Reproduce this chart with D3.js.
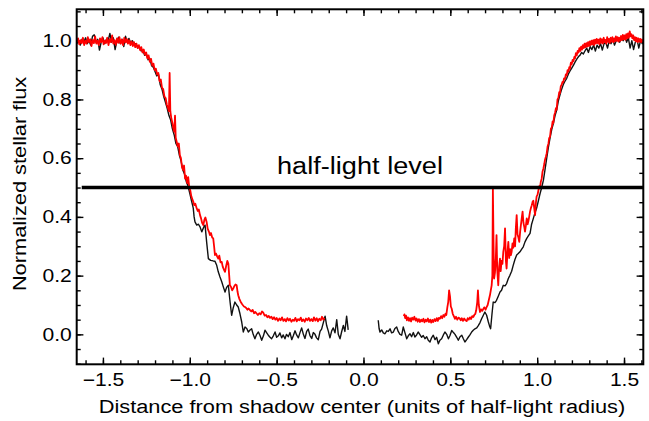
<!DOCTYPE html>
<html>
<head>
<meta charset="utf-8">
<script src="https://cdn.jsdelivr.net/npm/d3@7"></script>
<style>
  body { margin: 0; background: #fff; }
  text { font-family: "Liberation Sans", Arial, Helvetica, sans-serif; fill: #000; }
</style>
</head>
<body>
<svg id="chart" width="649" height="421"></svg>
<script>
// Light curves: [distance from shadow center, normalized stellar flux]
const blackLeft = [
  [-1.650,0.990],[-1.640,1.000],[-1.630,0.985],[-1.620,1.005],[-1.610,0.995],[-1.600,1.010],[-1.590,0.990],[-1.580,1.000],
  [-1.570,0.985],[-1.560,1.015],[-1.550,1.020],[-1.540,0.995],[-1.530,1.005],[-1.520,0.968],[-1.510,0.995],[-1.500,1.010],
  [-1.490,0.990],[-1.480,1.005],[-1.470,1.000],[-1.460,1.025],[-1.450,0.995],[-1.440,1.010],[-1.430,0.970],[-1.420,0.998],
  [-1.410,1.012],[-1.400,0.990],[-1.390,1.005],[-1.380,0.980],[-1.370,1.015],[-1.360,0.995],[-1.350,1.008],[-1.340,0.992],
  [-1.330,1.000],[-1.320,0.985],[-1.310,0.990],[-1.300,0.975],[-1.290,0.980],[-1.280,0.965],[-1.270,0.968],[-1.260,0.950],
  [-1.250,0.955],[-1.240,0.935],[-1.230,0.940],[-1.220,0.915],[-1.210,0.910],[-1.200,0.895],[-1.190,0.880],[-1.180,0.885],
  [-1.170,0.850],[-1.160,0.835],[-1.150,0.810],[-1.140,0.790],[-1.130,0.770],[-1.120,0.745],[-1.110,0.730],[-1.100,0.700],
  [-1.090,0.680],[-1.080,0.650],[-1.070,0.640],[-1.060,0.610],[-1.050,0.590],[-1.040,0.560],[-1.030,0.545],[-1.020,0.520],
  [-1.010,0.505],[-1.000,0.480],[-0.990,0.455],[-0.980,0.430],[-0.975,0.400],[-0.970,0.383],[-0.960,0.372],[-0.950,0.375],
  [-0.941,0.366],[-0.931,0.349],[-0.920,0.365],[-0.912,0.372],[-0.903,0.315],[-0.893,0.258],[-0.880,0.252],[-0.865,0.250],
  [-0.855,0.249],[-0.845,0.235],[-0.836,0.213],[-0.826,0.195],[-0.816,0.179],[-0.806,0.160],[-0.797,0.144],[-0.788,0.160],
  [-0.778,0.167],[-0.768,0.110],[-0.759,0.065],[-0.750,0.090],[-0.740,0.110],[-0.730,0.100],[-0.721,0.093],[-0.711,0.070],
  [-0.701,0.042],[-0.692,0.008],[-0.682,0.025],[-0.672,0.020],[-0.663,0.008],[-0.653,0.015],[-0.644,0.019],[-0.635,0.000],
  [-0.625,-0.015],[-0.615,0.000],[-0.605,0.008],[-0.595,-0.005],[-0.586,-0.020],[-0.576,-0.005],[-0.567,0.014],[-0.557,0.005],
  [-0.548,-0.003],[-0.538,-0.010],[-0.529,-0.015],[-0.519,-0.005],[-0.509,0.008],[-0.500,-0.010],[-0.490,-0.005],[-0.481,0.005],
  [-0.471,-0.012],[-0.462,-0.002],[-0.452,-0.015],[-0.443,0.000],[-0.433,-0.008],[-0.423,0.006],[-0.413,-0.018],[-0.404,-0.005],
  [-0.394,0.012],[-0.385,-0.002],[-0.375,-0.012],[-0.366,0.005],[-0.356,0.022],[-0.346,0.000],[-0.337,-0.014],[-0.327,0.010],
  [-0.318,0.018],[-0.308,-0.004],[-0.298,-0.014],[-0.289,0.006],[-0.279,0.000],[-0.270,-0.012],[-0.260,-0.018],[-0.250,0.010],
  [-0.241,0.018],[-0.231,0.040],[-0.221,0.062],[-0.212,0.030],[-0.202,0.010],[-0.193,-0.012],[-0.183,0.012],[-0.174,0.022],
  [-0.164,0.005],[-0.154,0.050],[-0.145,0.000],[-0.135,-0.015],[-0.126,0.008],[-0.116,0.030],[-0.107,0.010],[-0.097,0.062],
  [-0.088,0.015]
];

const blackRight = [
  [0.085,0.048],[0.090,0.020],[0.095,0.008],[0.105,0.015],[0.114,0.005],[0.124,0.002],[0.134,0.012],[0.143,0.010],
  [0.153,0.019],[0.162,0.005],[0.172,0.008],[0.181,0.020],[0.191,0.025],[0.200,0.010],[0.210,0.000],[0.220,-0.003],
  [0.229,0.025],[0.239,0.005],[0.249,-0.015],[0.258,-0.005],[0.268,0.002],[0.277,-0.008],[0.287,0.006],[0.296,-0.009],
  [0.306,-0.002],[0.315,0.008],[0.325,-0.001],[0.335,-0.010],[0.344,-0.004],[0.354,-0.015],[0.364,-0.008],[0.373,-0.020],
  [0.383,-0.026],[0.392,-0.012],[0.402,-0.003],[0.412,-0.018],[0.421,-0.010],[0.431,-0.032],[0.440,-0.020],[0.450,-0.015],
  [0.460,-0.002],[0.469,0.008],[0.479,0.000],[0.489,-0.015],[0.498,-0.004],[0.508,0.013],[0.518,0.006],[0.527,0.000],
  [0.537,-0.010],[0.546,-0.020],[0.556,-0.008],[0.566,-0.003],[0.575,-0.015],[0.584,-0.026],[0.594,-0.018],[0.604,-0.009],
  [0.613,-0.002],[0.623,0.008],[0.632,0.014],[0.642,0.019],[0.652,0.022],[0.661,0.030],[0.671,0.040],[0.680,0.053],
  [0.690,0.065],[0.699,0.076],[0.709,0.065],[0.719,0.042],[0.726,0.028],[0.732,0.019],[0.740,0.070],[0.747,0.110],
  [0.757,0.108],[0.766,0.116],[0.776,0.130],[0.786,0.144],[0.795,0.150],[0.805,0.167],[0.815,0.165],[0.824,0.173],
  [0.834,0.190],[0.843,0.201],[0.853,0.215],[0.862,0.235],[0.872,0.255],[0.882,0.270],[0.891,0.275],[0.901,0.281],
  [0.911,0.290],[0.920,0.298],[0.930,0.315],[0.940,0.327],[0.949,0.335],[0.959,0.344],[0.968,0.375],[0.978,0.395],
  [0.988,0.415],[0.997,0.430],[1.007,0.455],[1.016,0.478],[1.026,0.500],[1.036,0.525],[1.045,0.560],[1.055,0.600],
  [1.065,0.638],[1.074,0.668],[1.084,0.698],[1.093,0.718],[1.103,0.745],[1.112,0.763],[1.122,0.795],[1.131,0.815],
  [1.141,0.835],[1.150,0.850],[1.160,0.862],[1.170,0.872],[1.180,0.887],[1.189,0.897],[1.199,0.907],[1.209,0.917],
  [1.218,0.927],[1.228,0.937],[1.238,0.946],[1.246,0.950],[1.256,0.960],[1.266,0.955],[1.275,0.965],[1.285,0.975],
  [1.295,0.960],[1.305,0.980],[1.315,0.970],[1.325,0.985],[1.335,0.965],[1.345,0.985],[1.355,0.975],[1.365,0.990],
  [1.375,0.968],[1.385,0.990],[1.395,0.995],[1.405,0.975],[1.415,1.000],[1.425,0.990],[1.435,1.005],[1.445,0.985],
  [1.455,1.000],[1.465,1.010],[1.475,0.995],[1.485,1.010],[1.495,1.000],[1.505,1.015],[1.515,0.995],[1.525,1.010],
  [1.535,0.975],[1.545,1.000],[1.555,0.970],[1.565,0.995],[1.575,1.005],[1.585,0.975],[1.595,1.000],[1.605,0.990],
  [1.612,1.000]
];

const redLeft = [
  [-1.650,0.995],[-1.643,1.008],[-1.636,0.988],[-1.629,1.002],[-1.622,0.992],[-1.615,1.010],[-1.608,0.985],[-1.601,1.000],
  [-1.594,0.990],[-1.587,1.012],[-1.580,0.995],[-1.573,1.005],[-1.566,0.982],[-1.559,1.003],[-1.552,0.992],[-1.545,1.015],
  [-1.538,0.990],[-1.531,1.000],[-1.524,0.985],[-1.517,1.008],[-1.510,0.995],[-1.503,1.012],[-1.496,0.988],[-1.489,1.000],
  [-1.482,0.992],[-1.475,1.010],[-1.468,0.985],[-1.461,1.005],[-1.454,0.995],[-1.447,1.018],[-1.440,0.990],[-1.433,1.002],
  [-1.426,0.986],[-1.419,1.008],[-1.412,0.993],[-1.405,1.012],[-1.398,0.990],[-1.391,1.004],[-1.384,0.985],[-1.377,1.010],
  [-1.370,0.994],[-1.363,1.006],[-1.356,0.990],[-1.349,1.002],[-1.342,0.985],[-1.335,0.998],[-1.328,0.982],[-1.321,0.995],
  [-1.314,0.978],[-1.307,0.990],[-1.300,0.975],[-1.293,0.985],[-1.286,0.968],[-1.279,0.978],[-1.272,0.960],[-1.265,0.970],
  [-1.258,0.952],[-1.251,0.960],[-1.244,0.940],[-1.237,0.950],[-1.230,0.928],[-1.223,0.938],[-1.216,0.915],[-1.209,0.922],
  [-1.202,0.900],[-1.195,0.905],[-1.188,0.885],[-1.181,0.890],[-1.174,0.862],[-1.167,0.868],[-1.160,0.840],[-1.153,0.835],
  [-1.146,0.810],[-1.139,0.805],[-1.132,0.782],[-1.125,0.770],[-1.120,0.760],[-1.116,0.890],[-1.112,0.760],[-1.106,0.735],
  [-1.100,0.720],[-1.094,0.700],[-1.089,0.690],[-1.085,0.745],[-1.081,0.670],[-1.075,0.655],[-1.069,0.640],[-1.063,0.650],
  [-1.057,0.610],[-1.051,0.600],[-1.045,0.570],[-1.039,0.560],[-1.033,0.575],[-1.027,0.530],[-1.021,0.540],[-1.015,0.515],
  [-1.009,0.535],[-1.003,0.500],[-0.997,0.490],[-0.991,0.470],[-0.985,0.460],[-0.980,0.452],[-0.974,0.440],[-0.968,0.445],
  [-0.960,0.429],[-0.954,0.420],[-0.948,0.425],[-0.941,0.406],[-0.935,0.395],[-0.929,0.380],[-0.922,0.372],[-0.916,0.390],
  [-0.910,0.398],[-0.903,0.383],[-0.897,0.360],[-0.890,0.350],[-0.884,0.338],[-0.878,0.345],[-0.871,0.330],[-0.865,0.327],
  [-0.860,0.300],[-0.855,0.270],[-0.849,0.275],[-0.842,0.265],[-0.836,0.258],[-0.830,0.268],[-0.823,0.245],[-0.816,0.247],
  [-0.810,0.230],[-0.803,0.220],[-0.797,0.213],[-0.790,0.235],[-0.784,0.250],[-0.778,0.241],[-0.773,0.200],[-0.769,0.167],
  [-0.763,0.162],[-0.756,0.150],[-0.750,0.156],[-0.743,0.165],[-0.737,0.170],[-0.730,0.167],[-0.725,0.145],[-0.721,0.133],
  [-0.714,0.120],[-0.708,0.112],[-0.701,0.105],[-0.695,0.100],[-0.688,0.095],[-0.682,0.093],[-0.675,0.090],[-0.668,0.084],
  [-0.661,0.088],[-0.653,0.082],[-0.646,0.078],[-0.638,0.083],[-0.630,0.072],[-0.622,0.076],[-0.615,0.071],[-0.608,0.066],
  [-0.600,0.072],[-0.592,0.068],[-0.584,0.078],[-0.577,0.074],[-0.569,0.064],[-0.561,0.066],[-0.553,0.058],[-0.546,0.063],
  [-0.538,0.056],[-0.530,0.060],[-0.523,0.052],[-0.515,0.058],[-0.507,0.050],[-0.500,0.056],[-0.492,0.046],[-0.484,0.054],
  [-0.477,0.048],[-0.469,0.058],[-0.461,0.046],[-0.453,0.052],[-0.446,0.044],[-0.438,0.055],[-0.430,0.047],[-0.423,0.053],
  [-0.415,0.043],[-0.407,0.050],[-0.400,0.046],[-0.392,0.056],[-0.384,0.044],[-0.377,0.052],[-0.369,0.048],[-0.361,0.057],
  [-0.354,0.045],[-0.346,0.051],[-0.338,0.043],[-0.331,0.054],[-0.323,0.048],[-0.315,0.056],[-0.308,0.046],[-0.300,0.052],
  [-0.292,0.045],[-0.285,0.058],[-0.277,0.047],[-0.269,0.055],[-0.262,0.044],[-0.254,0.053],[-0.246,0.048],[-0.239,0.060],
  [-0.231,0.050],[-0.225,0.056]
];

const redRight = [
  [0.232,0.062],[0.236,0.068],[0.240,0.055],[0.245,0.064],[0.250,0.048],[0.256,0.058],[0.262,0.046],[0.268,0.055],
  [0.274,0.044],[0.280,0.057],[0.287,0.050],[0.293,0.060],[0.300,0.047],[0.306,0.054],[0.312,0.043],[0.319,0.052],
  [0.325,0.042],[0.332,0.050],[0.338,0.044],[0.345,0.053],[0.351,0.041],[0.358,0.050],[0.364,0.044],[0.371,0.054],
  [0.377,0.042],[0.384,0.050],[0.390,0.040],[0.396,0.049],[0.402,0.042],[0.409,0.052],[0.415,0.045],[0.422,0.055],
  [0.428,0.046],[0.434,0.056],[0.440,0.053],[0.447,0.062],[0.453,0.055],[0.460,0.066],[0.466,0.060],[0.472,0.070],
  [0.477,0.066],[0.483,0.093],[0.488,0.110],[0.493,0.150],[0.498,0.130],[0.503,0.095],[0.508,0.087],[0.514,0.070],
  [0.520,0.062],[0.527,0.053],[0.533,0.060],[0.540,0.050],[0.547,0.057],[0.553,0.055],[0.560,0.048],[0.566,0.055],
  [0.573,0.046],[0.580,0.054],[0.587,0.048],[0.594,0.045],[0.600,0.055],[0.606,0.050],[0.613,0.058],[0.619,0.052],
  [0.626,0.062],[0.632,0.059],[0.638,0.066],[0.644,0.070],[0.649,0.082],[0.655,0.110],[0.659,0.150],[0.664,0.100],
  [0.671,0.076],[0.677,0.085],[0.684,0.080],[0.690,0.087],[0.696,0.092],[0.703,0.084],[0.709,0.093],[0.715,0.100],
  [0.721,0.115],[0.728,0.133],[0.733,0.150],[0.738,0.167],[0.742,0.200],[0.745,0.497],[0.749,0.300],[0.752,0.190],
  [0.757,0.210],[0.762,0.260],[0.766,0.338],[0.770,0.220],[0.776,0.167],[0.781,0.230],[0.786,0.258],[0.790,0.215],
  [0.795,0.250],[0.800,0.240],[0.805,0.281],[0.810,0.300],[0.815,0.361],[0.820,0.250],[0.824,0.224],[0.829,0.280],
  [0.834,0.315],[0.839,0.260],[0.844,0.290],[0.849,0.270],[0.853,0.281],[0.858,0.310],[0.863,0.295],[0.868,0.327],
  [0.873,0.300],[0.877,0.360],[0.882,0.406],[0.887,0.340],[0.892,0.330],[0.897,0.315],[0.902,0.350],[0.906,0.370],
  [0.911,0.395],[0.916,0.418],[0.921,0.380],[0.926,0.365],[0.930,0.350],[0.935,0.370],[0.940,0.395],[0.945,0.375],
  [0.949,0.384],[0.954,0.400],[0.959,0.418],[0.964,0.430],[0.969,0.440],[0.974,0.452],[0.978,0.455],[0.983,0.430],
  [0.988,0.406],[0.993,0.450],[0.997,0.470],[1.002,0.475],[1.007,0.490],[1.012,0.505],[1.016,0.497],[1.021,0.520],
  [1.026,0.530],[1.031,0.555],[1.036,0.565],[1.041,0.580],[1.045,0.595],[1.050,0.605],[1.055,0.617],[1.060,0.640],
  [1.065,0.650],[1.069,0.668],[1.074,0.673],[1.079,0.700],[1.084,0.705],[1.089,0.725],[1.093,0.719],[1.098,0.745],
  [1.103,0.755],[1.108,0.770],[1.112,0.765],[1.117,0.800],[1.122,0.805],[1.127,0.825],[1.131,0.821],[1.136,0.845],
  [1.141,0.850],[1.146,0.860],[1.150,0.858],[1.155,0.872],[1.160,0.870],[1.165,0.885],[1.170,0.882],[1.175,0.900],
  [1.180,0.895],[1.185,0.910],[1.189,0.905],[1.194,0.925],[1.199,0.920],[1.204,0.935],[1.209,0.930],[1.214,0.945],
  [1.218,0.940],[1.223,0.958],[1.228,0.950],[1.233,0.965],[1.238,0.960],[1.243,0.975],[1.248,0.965],[1.253,0.980],
  [1.258,0.970],[1.263,0.985],[1.268,0.975],[1.273,0.990],[1.278,0.978],[1.283,0.992],[1.288,0.980],[1.293,0.995],
  [1.298,0.982],[1.303,0.998],[1.308,0.985],[1.313,1.000],[1.318,0.988],[1.323,1.002],[1.328,0.985],[1.333,1.004],
  [1.338,0.990],[1.343,1.006],[1.348,0.992],[1.353,1.004],[1.358,0.988],[1.363,1.008],[1.368,0.993],[1.373,1.005],
  [1.378,0.990],[1.383,1.010],[1.388,0.995],[1.393,1.003],[1.398,0.990],[1.403,1.012],[1.408,0.996],[1.413,1.006],
  [1.418,0.992],[1.423,1.010],[1.428,0.997],[1.433,1.012],[1.438,0.995],[1.443,1.008],[1.448,0.998],[1.453,1.015],
  [1.458,1.000],[1.463,1.012],[1.468,0.997],[1.473,1.010],[1.478,1.000],[1.483,1.016],[1.488,1.002],[1.493,1.020],
  [1.498,1.005],[1.503,1.018],[1.508,1.003],[1.513,1.022],[1.518,1.008],[1.523,1.025],[1.528,1.010],[1.533,1.032],
  [1.538,1.015],[1.543,1.022],[1.548,1.008],[1.553,1.018],[1.558,1.002],[1.563,1.012],[1.568,0.998],[1.573,1.010],
  [1.578,0.995],[1.583,1.008],[1.588,0.997],[1.593,1.006],[1.598,0.995],[1.603,1.004],[1.608,0.998],[1.612,1.002]
];

const xTickValues = [-1.5, -1.0, -0.5, 0.0, 0.5, 1.0, 1.5];
const yTickValues = [0.0, 0.2, 0.4, 0.6, 0.8, 1.0];
const halfLightLevel = 0.5;
const halfLightSpan = [-1.622, 1.611];
const lineLabel = "half-light level";
const xTitle = "Distance from shadow center (units of half-light radius)";
const yTitle = "Normalized stellar flux";

// ---- layout ----
const svg = d3.select("#chart");
const plot = { left: 76.7, right: 643.3, top: 9.3, bottom: 364.3 };

const x = d3.scaleLinear().domain([-1.651, 1.611]).range([plot.left, plot.right]);
const y = d3.scaleLinear().domain([-0.102, 1.107]).range([plot.bottom, plot.top]);

const fmt = d3.format(".1f");
const majorLen = 6.7, minorLen = 4;

// widen glyphs horizontally, like the original typeface
function widen(sel, k) {
  sel.each(function () {
    const w = this.getComputedTextLength();
    d3.select(this).attr("textLength", w * k).attr("lengthAdjust", "spacingAndGlyphs");
  });
}

svg.append("defs").append("clipPath").attr("id", "plot-clip")
  .append("rect")
  .attr("x", plot.left).attr("y", plot.top)
  .attr("width", plot.right - plot.left).attr("height", plot.bottom - plot.top);

// ---- axes with inward ticks on all four sides ----
const xMinor = d3.range(-16, 17).map(d => d / 10);
const yMinor = d3.range(-2, 23).map(d => d / 20);

function styleAxis(g) {
  g.select(".domain").remove();
  g.selectAll(".tick line").attr("stroke", "#000").attr("stroke-width", 1.4);
}

svg.append("g").attr("transform", `translate(0,${plot.bottom})`)
  .call(d3.axisBottom(x).tickValues(xMinor).tickSize(-minorLen).tickFormat(""))
  .call(styleAxis);
svg.append("g").attr("transform", `translate(0,${plot.top})`)
  .call(d3.axisTop(x).tickValues(xMinor).tickSize(-minorLen).tickFormat(""))
  .call(styleAxis);
svg.append("g").attr("transform", `translate(${plot.left},0)`)
  .call(d3.axisLeft(y).tickValues(yMinor).tickSize(-minorLen).tickFormat(""))
  .call(styleAxis);
svg.append("g").attr("transform", `translate(${plot.right},0)`)
  .call(d3.axisRight(y).tickValues(yMinor).tickSize(-minorLen).tickFormat(""))
  .call(styleAxis);

const xAxis = svg.append("g").attr("transform", `translate(0,${plot.bottom})`)
  .call(d3.axisBottom(x).tickValues(xTickValues).tickSize(-majorLen).tickPadding(9).tickFormat(fmt))
  .call(styleAxis);
svg.append("g").attr("transform", `translate(0,${plot.top})`)
  .call(d3.axisTop(x).tickValues(xTickValues).tickSize(-majorLen).tickFormat(""))
  .call(styleAxis);
const yAxis = svg.append("g").attr("transform", `translate(${plot.left},0)`)
  .call(d3.axisLeft(y).tickValues(yTickValues).tickSize(-majorLen).tickPadding(5).tickFormat(fmt))
  .call(styleAxis);
svg.append("g").attr("transform", `translate(${plot.right},0)`)
  .call(d3.axisRight(y).tickValues(yTickValues).tickSize(-majorLen).tickFormat(""))
  .call(styleAxis);

[xAxis, yAxis].forEach(a => {
  a.selectAll(".tick text")
    .attr("font-family", '"Liberation Sans", Arial, Helvetica, sans-serif')
    .attr("font-size", 18).attr("fill", "#000");
  widen(a.selectAll(".tick text"), 1.17);
});

// ---- curves ----
const line = d3.line().x(d => x(d[0])).y(d => y(d[1]));
const curves = svg.append("g").attr("clip-path", "url(#plot-clip)");

[blackLeft, blackRight].forEach(seg => {
  curves.append("path").datum(seg).attr("d", line)
    .attr("fill", "none").attr("stroke", "#111").attr("stroke-width", 1.4)
    .attr("stroke-linejoin", "round");
});
[redLeft, redRight].forEach(seg => {
  curves.append("path").datum(seg).attr("d", line)
    .attr("fill", "none").attr("stroke", "#ff0000").attr("stroke-width", 1.8)
    .attr("stroke-linejoin", "round");
});

// ---- half-light reference line ----
svg.append("line")
  .attr("x1", x(halfLightSpan[0])).attr("x2", x(halfLightSpan[1]))
  .attr("y1", y(halfLightLevel)).attr("y2", y(halfLightLevel))
  .attr("stroke", "#000").attr("stroke-width", 3.5);

const lbl = svg.append("text")
  .attr("x", (plot.left + plot.right) / 2).attr("y", y(halfLightLevel) - 14)
  .attr("text-anchor", "middle").attr("font-size", 23)
  .text(lineLabel);
widen(lbl, 1.18);

// ---- frame ----
svg.append("rect")
  .attr("x", plot.left).attr("y", plot.top)
  .attr("width", plot.right - plot.left).attr("height", plot.bottom - plot.top)
  .attr("fill", "none").attr("stroke", "#000").attr("stroke-width", 2);

// ---- titles ----
const xt = svg.append("text")
  .attr("x", 362).attr("y", 413)
  .attr("text-anchor", "middle").attr("font-size", 18)
  .text(xTitle);
widen(xt, 1.21);

const yt = svg.append("text")
  .attr("transform", "translate(26,184) rotate(-90)")
  .attr("text-anchor", "middle").attr("font-size", 18)
  .text(yTitle);
widen(yt, 1.21);
</script>
</body>
</html>
